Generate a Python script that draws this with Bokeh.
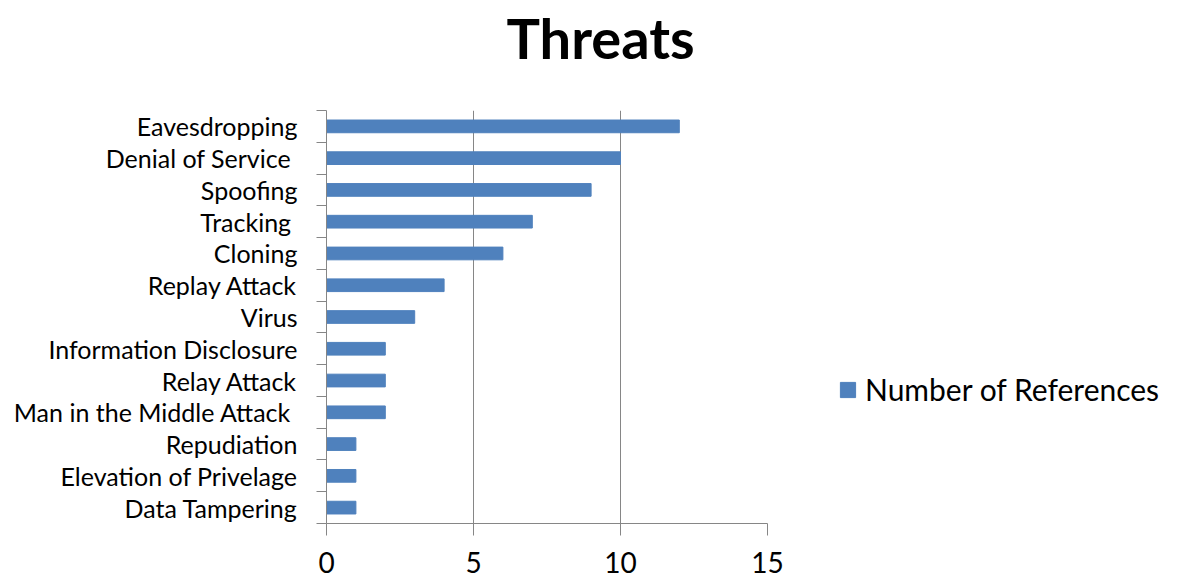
from bokeh.plotting import figure
from bokeh.models import (ColumnDataSource, FixedTicker, Range1d, Legend, LegendItem, Title)
from bokeh.embed import file_html
from bokeh.resources import INLINE

# data (bottom to top)
categories = ["Data Tampering", "Elevation of Privelage", "Repudiation",
              "Man  in the Middle Attack", "Relay Attack", "Information Disclosure",
              "Virus", "Replay Attack", "Cloning", "Tracking ", "Spoofing",
              "Denial of Service ", "Eavesdropping"]
references = [1, 1, 1, 2, 2, 2, 3, 4, 6, 7, 9, 10, 12]
x_ticks = [0, 5, 10, 15]
series_name = "Number of References"
title_text = "Threats"

FONT = "Lato"
GRID = "#868686"
BAR = "#4F81BD"

n = len(categories)
pos = [i + 0.5 for i in range(n)]
src = ColumnDataSource(dict(y=pos, v=references, cat=categories))

p = figure(frame_width=441, frame_height=413, output_backend="svg", toolbar_location=None,
           x_range=Range1d(0, 15), y_range=Range1d(0, n),
           min_border_left=326, min_border_right=422, min_border_top=110,
           min_border_bottom=57, outline_line_color=None)

r = p.hbar(y="y", right="v", left=0, height=0.4, color=BAR, source=src)

# title (outermost) + spacer between title and frame
p.title.text = title_text
p.title.text_font = FONT
p.title.text_font_style = "bold"
p.title.text_font_size = "56px"
p.title.align = "left"
p.title.offset = 180
p.title.standoff = 0
p.title.text_color = "black"
p.add_layout(Title(text=" ", text_font_size="10px", standoff=27), "above")

# x axis
xa = p.xaxis[0]
xa.ticker = FixedTicker(ticks=x_ticks, minor_ticks=[])
xa.axis_line_color = GRID
xa.major_tick_line_color = GRID
xa.major_tick_out = 12
xa.major_tick_in = 0
xa.minor_tick_line_color = None
xa.major_label_text_font = FONT
xa.major_label_text_font_size = "28px"
xa.major_label_text_line_height = 0.8
xa.major_label_text_color = "black"
xa.major_label_standoff = 16

# y axis
ya = p.yaxis[0]
ya.ticker = FixedTicker(ticks=pos, minor_ticks=list(range(n + 1)))
ya.major_label_overrides = {pp: c for pp, c in zip(pos, categories)}
ya.axis_line_color = GRID
ya.major_tick_line_color = None
ya.major_tick_out = 0
ya.major_tick_in = 0
ya.minor_tick_line_color = GRID
ya.minor_tick_out = 10
ya.minor_tick_in = 0
ya.major_label_text_font = FONT
ya.major_label_text_font_size = "25px"
ya.major_label_text_color = "black"
ya.major_label_standoff = 19

p.xgrid.ticker = FixedTicker(ticks=x_ticks)
p.xgrid.grid_line_color = GRID
p.ygrid.grid_line_color = None

legend = Legend(items=[LegendItem(label=series_name, renderers=[r])],
                label_text_font=FONT, label_text_font_size="30px",
                label_text_color="black", border_line_color=None,
                background_fill_alpha=0, glyph_width=19, glyph_height=19,
                location=(71, 116), margin=0, padding=0, label_standoff=8)
p.add_layout(legend, "right")

open("out.html", "w").write(file_html(p, INLINE))
